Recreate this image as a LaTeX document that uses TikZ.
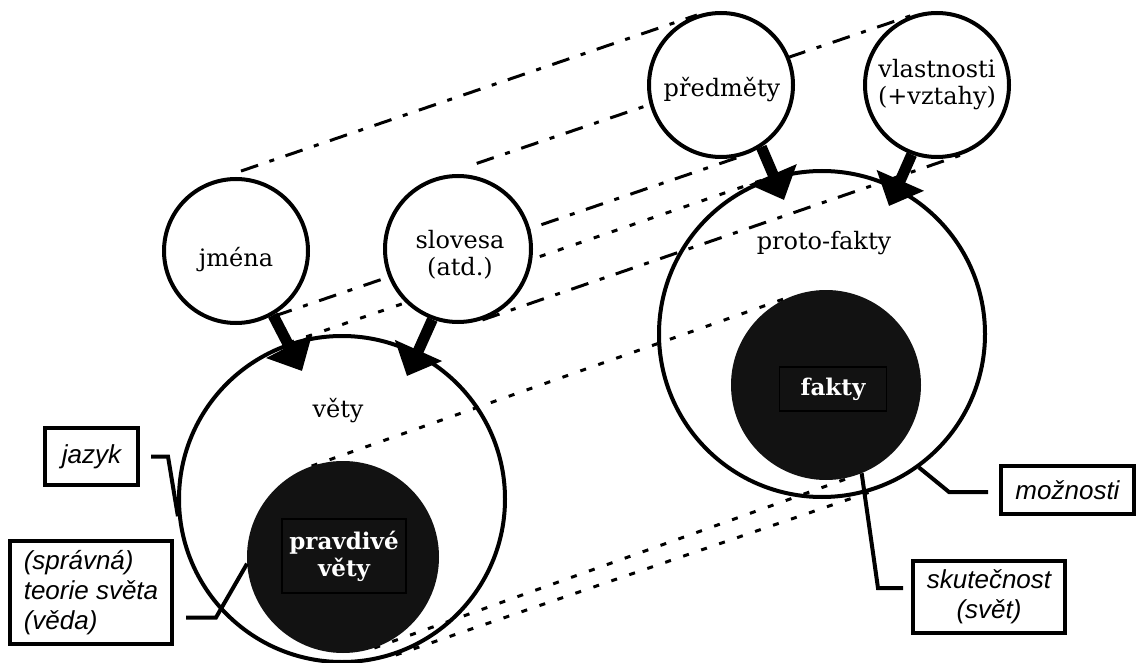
\documentclass[tikz,border=0pt]{standalone}
\usepackage{fontspec}
\setmainfont{DejaVu Serif}
\newfontfamily\labelfont{Liberation Sans}
\usetikzlibrary{arrows.meta,calc}
\pgfdeclarelayer{bglayer}
\pgfdeclarelayer{linelayer}
\pgfsetlayers{bglayer,linelayer,main}
\begin{document}
\begin{tikzpicture}[x=1pt,y=-1pt,
  ring/.style={circle, draw, line width=4pt, fill=white, inner sep=0pt},
  blackdisc/.style={circle, fill=black!93, inner sep=0pt},
  word/.style={font=\fontsize{24}{27}\selectfont, align=center, inner sep=0pt},
  whitebox/.style={font=\bfseries\fontsize{23}{27}\selectfont, text=white, align=center, draw=black, line width=1.5pt, fill=black!93, inner sep=0pt},
  tag/.style={draw, line width=4pt, font=\labelfont\itshape\fontsize{26}{30}\selectfont, inner sep=0pt},
  pair/.style={line width=3pt, dash pattern=on 18pt off 12pt on 5pt off 12pt},
  dots/.style={line width=3pt, dash pattern=on 6pt off 13pt},
  lead/.style={line width=4pt},
  bigarrow/.style={line width=11pt, -{Triangle[width=50pt,length=28pt]}},
]
\useasboundingbox (0,0) rectangle (1146,663);
\begin{pgfonlayer}{bglayer}
  \node[ring, minimum size=326pt] (vety) at (342,499) {};
  \node[ring, minimum size=326pt] (proto) at (822,334) {};
\end{pgfonlayer}
\node[ring, minimum size=144pt] (jmena) at (236,251) {};
\node[ring, minimum size=146pt] (slovesa) at (458,249) {};
\node[ring, minimum size=144pt] (predmety) at (721,85) {};
\node[ring, minimum size=144pt] (vlastnosti) at (937,85) {};
\node[blackdisc, minimum size=192pt] (pravdive) at (343,557) {};
\node[blackdisc, minimum size=190pt] (fakty) at (826,385) {};
\begin{pgfonlayer}{linelayer}
  \draw[pair] ($(jmena.109)!0.06!(predmety.109)$) -- (predmety.109);
  \draw[pair] ($(slovesa.109)!0.09!(vlastnosti.109)$) -- (vlastnosti.109);
  \draw[pair] ($(jmena.-71)!0.03!(predmety.-71)$) -- (predmety.-71);
  \draw[pair] (slovesa.-71) -- (vlastnosti.-71);
  \draw[dots] (vety.109) -- (proto.109);
  \draw[dots] (vety.-71) -- (proto.-71);
  \draw[dots] (pravdive.109) -- (fakty.109);
  \draw[dots] (pravdive.-71) -- (fakty.-71);
\end{pgfonlayer}
\coordinate (tipA) at (302,371);
\coordinate (tipB) at (407,376);
\coordinate (tipC) at (784,200);
\coordinate (tipD) at (889,206);
\draw[bigarrow] (jmena.-60) -- (tipA);
\draw[bigarrow] (slovesa.-110) -- (tipB);
\draw[bigarrow] (predmety.-57) -- (tipC);
\draw[bigarrow] (vlastnosti.-110) -- (tipD);
\node[word] (tj) at (236,260) {jména};
\node[word] (ts) at (460,255) {slovesa\\(atd.)};
\node[word] (tp) at (722,90) {předměty};
\node[word] (tv) at (937,85) {vlastnosti\\(+vztahy)};
\node[word] (tpf) at (824,243) {proto-fakty};
\node[word] (tvt) at (338,411) {věty};
\node[whitebox, minimum width=124pt, minimum height=74pt] (tpv) at (344,556) {pravdivé\\věty};
\node[whitebox, minimum width=107pt, minimum height=44pt] (tf) at (833,389) {fakty};
\node[tag, minimum width=93pt, minimum height=57pt] (jazyk) at (91.5,456.5) {jazyk};
\node[tag, minimum width=162pt, minimum height=103pt, align=left] (teorie) at (91,592.5) {(správná)\\teorie světa\\(věda)};
\node[tag, minimum width=133pt, minimum height=48pt] (moznosti) at (1067.5,490) {možnosti};
\node[tag, minimum width=152pt, minimum height=72pt, align=center] (skut) at (989,597) {skutečnost\\(svět)};
\draw[lead] ([xshift=11pt]jazyk.east) -- ++(17,0) -- (vety.186);
\draw[lead] ([xshift=12pt,yshift=-25pt]teorie.east) -- ++(30,0) -- (pravdive.184);
\draw[lead] ([xshift=-11pt,yshift=-2pt]moznosti.west) -- ++(-39,0) -- (proto.-54);
\draw[lead] ([xshift=-8pt,yshift=9pt]skut.west) -- ++(-25,0) -- (fakty.-68);
\end{tikzpicture}
\end{document}
